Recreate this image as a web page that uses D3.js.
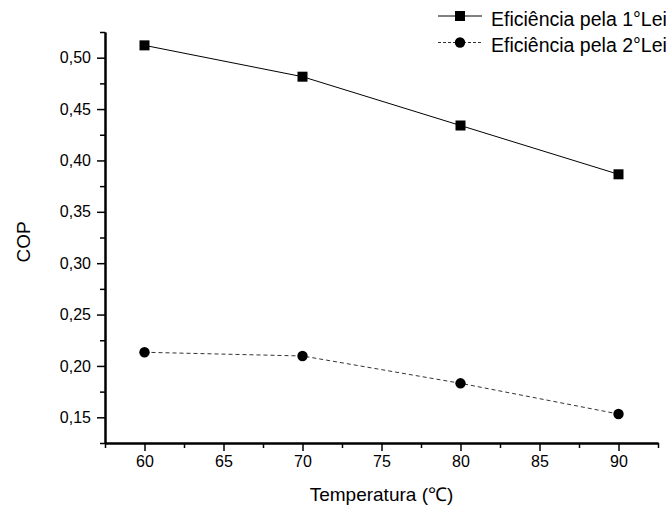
<!DOCTYPE html>
<html>
<head>
<meta charset="utf-8">
<script src="https://cdn.jsdelivr.net/npm/d3@7"></script>
<style>
  html, body { margin: 0; padding: 0; background: #fff; }
  svg { display: block; }
  text { font-family: Arial, "Liberation Sans", sans-serif; fill: #000; }
</style>
</head>
<body>
<svg id="chart" width="672" height="508"></svg>
<script>
// ---- data ----
const temperatures = [60, 70, 80, 90];
const firstLaw = [0.512, 0.4815, 0.434, 0.3865];
const secondLaw = [0.2133, 0.2097, 0.1831, 0.1532];
const seriesNames = ["Eficiência pela 1°Lei", "Eficiência pela 2°Lei"];
const xTickValues = [60, 65, 70, 75, 80, 85, 90];
const yTickValues = [0.15, 0.20, 0.25, 0.30, 0.35, 0.40, 0.45, 0.50];
const xTitle = "Temperatura (℃)";
const yTitle = "COP";

(function () {
// ---- layout ----
const svg = d3.select("#chart");
const pLeft = 105, pRight = 658, pTop = 32, pBottom = 443;

const x = d3.scaleLinear().domain([57.5, 92.5]).range([pLeft, pRight]);
const y = d3.scaleLinear().domain([0.125, 0.525]).range([pBottom, pTop]);

const fmtY = v => d3.format(".2f")(v).replace(".", ",");

const xMinor = d3.range(57.5, 92.6, 2.5).filter(v => !xTickValues.some(t => Math.abs(t - v) < 1e-6));
const yMinor = d3.range(0.125, 0.526, 0.025).filter(v => !yTickValues.some(t => Math.abs(t - v) < 1e-6));

// X axis
const gx = svg.append("g").attr("transform", `translate(0,${pBottom})`);
gx.call(d3.axisBottom(x).tickValues(xTickValues).tickSize(8).tickPadding(5).tickSizeOuter(0));
const gxm = svg.append("g").attr("transform", `translate(0,${pBottom})`);
gxm.call(d3.axisBottom(x).tickValues(xMinor).tickSize(5).tickFormat("").tickSizeOuter(0));

// Y axis
const gy = svg.append("g").attr("transform", `translate(${pLeft},0)`);
gy.call(d3.axisLeft(y).tickValues(yTickValues).tickFormat(fmtY).tickSize(8).tickPadding(6).tickSizeOuter(0));
const gym = svg.append("g").attr("transform", `translate(${pLeft},0)`);
gym.call(d3.axisLeft(y).tickValues(yMinor).tickSize(5).tickFormat("").tickSizeOuter(0));

svg.selectAll(".domain").attr("stroke", "#000").attr("stroke-width", 2);
svg.selectAll(".tick line").attr("stroke", "#000").attr("stroke-width", 1.5);
svg.selectAll(".tick text").attr("font-size", 16).attr("font-family", "Arial, 'Liberation Sans', sans-serif").attr("fill", "#000");

// axis titles
svg.append("text")
  .attr("x", (pLeft + pRight) / 2).attr("y", 501)
  .attr("text-anchor", "middle").attr("font-size", 19)
  .text(xTitle);
svg.append("text")
  .attr("transform", `translate(30,242) rotate(-90)`)
  .attr("text-anchor", "middle").attr("font-size", 19)
  .text(yTitle);

// lines
const line = d3.line().x((d, i) => x(temperatures[i])).y(d => y(d));

svg.append("path").datum(firstLaw)
  .attr("d", line).attr("fill", "none").attr("stroke", "#000").attr("stroke-width", 1);
svg.append("path").datum(secondLaw)
  .attr("d", line).attr("fill", "none").attr("stroke", "#333").attr("stroke-width", 1)
  .attr("stroke-dasharray", "4,3");

// markers
svg.selectAll(".sq").data(firstLaw).enter().append("rect")
  .attr("x", (d, i) => x(temperatures[i]) - 5)
  .attr("y", d => y(d) - 5)
  .attr("width", 10).attr("height", 10).attr("fill", "#000");
svg.selectAll(".ci").data(secondLaw).enter().append("circle")
  .attr("cx", (d, i) => x(temperatures[i]))
  .attr("cy", d => y(d))
  .attr("r", 5.2).attr("fill", "#000");

// legend
const lg = svg.append("g");
const lx0 = 438, lx1 = 482, ly = [16, 42.5];
lg.append("line").attr("x1", lx0).attr("x2", lx1).attr("y1", ly[0]).attr("y2", ly[0])
  .attr("stroke", "#000").attr("stroke-width", 1);
lg.append("rect").attr("x", (lx0 + lx1) / 2 - 5).attr("y", ly[0] - 5).attr("width", 10).attr("height", 10).attr("fill", "#000");
lg.append("line").attr("x1", lx0).attr("x2", lx1).attr("y1", ly[1]).attr("y2", ly[1])
  .attr("stroke", "#333").attr("stroke-width", 1).attr("stroke-dasharray", "3,2");
lg.append("circle").attr("cx", (lx0 + lx1) / 2).attr("cy", ly[1]).attr("r", 5.2).attr("fill", "#000");
seriesNames.forEach((n, i) => {
  lg.append("text").attr("x", 491).attr("y", ly[i] + 9.5).attr("font-size", 19.5).text(n);
});
})();
</script>
</body>
</html>
